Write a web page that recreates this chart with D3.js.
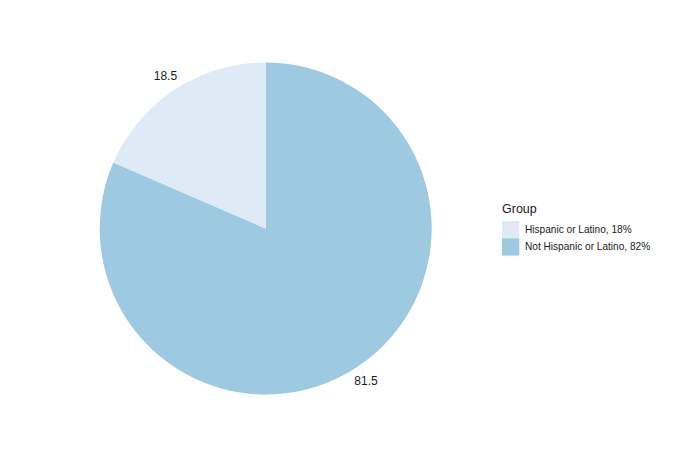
<!DOCTYPE html>
<html>
<head>
<meta charset="utf-8">
<script src="https://cdn.jsdelivr.net/npm/d3@7"></script>
<style>
  body { margin: 0; background: #fff; }
  svg text { font-family: "Liberation Sans", Arial, sans-serif; }
</style>
</head>
<body>
<svg id="chart" width="686" height="458"></svg>
<script>
// data
const groups = ["Hispanic or Latino", "Not Hispanic or Latino"];
const values = [18.5, 81.5];
const legendLabels = ["Hispanic or Latino, 18%", "Not Hispanic or Latino, 82%"];
const colors = ["#DEEBF7", "#9ECAE1"];

const width = 686, height = 458;
const cx = 265.7, cy = 228.5, radius = 166;

const svg = d3.select("#chart");
svg.append("rect").attr("width", width).attr("height", height).attr("fill", "#fff");

const color = d3.scaleOrdinal().domain(groups).range(colors);

const data = groups.map((g, i) => ({ group: g, value: values[i] }));

// not hispanic starts at 12 o'clock, goes clockwise; hispanic fills the rest
const pie = d3.pie()
  .value((d) => d.value)
  .sort(null)
  .startAngle(0)
  .endAngle(2 * Math.PI);

const ordered = [data[1], data[0]];
const arcs = pie(ordered);

const arc = d3.arc().innerRadius(0).outerRadius(radius);
const labelArc = d3.arc().innerRadius(radius * 1.1).outerRadius(radius * 1.1);

const g = svg.append("g").attr("transform", `translate(${cx},${cy})`);

g.selectAll("path.slice")
  .data(arcs)
  .enter()
  .append("path")
  .attr("class", "slice")
  .attr("d", arc)
  .attr("fill", (d) => color(d.data.group));

g.selectAll("text.lbl")
  .data(arcs)
  .enter()
  .append("text")
  .attr("class", "lbl")
  .attr("transform", (d) => `translate(${labelArc.centroid(d)})`)
  .attr("text-anchor", "middle")
  .attr("dy", "0.35em")
  .attr("font-size", 12)
  .attr("fill", "#1a1a1a")
  .text((d) => d.data.value);

// legend
const legend = svg.append("g").attr("transform", "translate(502,200)");
legend.append("text")
  .attr("x", 0)
  .attr("y", 13)
  .attr("font-size", 12.5)
  .attr("fill", "#1a1a1a")
  .text("Group");

const keySize = 17.3;
const keys = legend.selectAll("g.key")
  .data(groups)
  .enter()
  .append("g")
  .attr("class", "key")
  .attr("transform", (d, i) => `translate(0,${21 + i * keySize})`);

keys.append("rect")
  .attr("width", keySize)
  .attr("height", keySize)
  .attr("fill", (d) => color(d));

keys.append("text")
  .attr("x", 23)
  .attr("y", keySize / 2)
  .attr("dy", "0.35em")
  .attr("font-size", 10.1)
  .attr("fill", "#1a1a1a")
  .text((d, i) => legendLabels[i]);
</script>
</body>
</html>
